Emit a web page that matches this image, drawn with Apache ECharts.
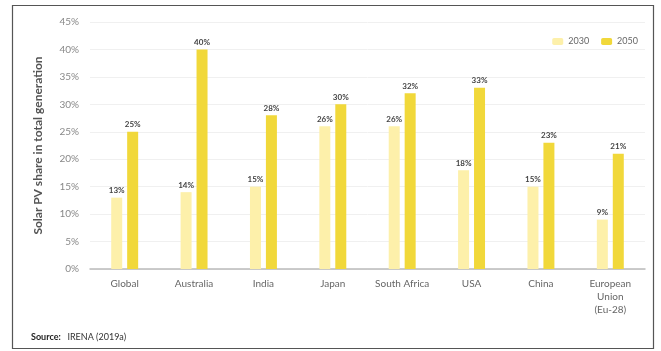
<!DOCTYPE html>
<html><head><meta charset="utf-8">
<script src="https://cdn.jsdelivr.net/npm/echarts@6/dist/echarts.min.js"></script>
<style>html,body{margin:0;padding:0;background:#fff}#c{width:661px;height:351px}</style>
</head><body><div id="c"></div>
<script>
const categories = ['Global','Australia','India','Japan','South Africa','USA','China','European\nUnion\n(Eu-28)'];
const values2030 = [13,14,15,26,26,18,15,9];
const values2050 = [25,40,28,30,32,33,23,21];
const yTicks = [0,5,10,15,20,25,30,35,40,45];

const chart = echarts.init(document.getElementById('c'));
const labelStyle = {show:true, position:'top', formatter:'{c}%', color:'#444', fontSize:8, fontWeight:'bold', fontFamily:'Lato', distance:3};
chart.setOption({
  animation:false,
  textStyle:{fontFamily:'Lato'},
  graphic:[
    {type:'rect', shape:{x:12.5,y:5.5,width:641,height:343}, style:{fill:'none', stroke:'#555', lineWidth:1.2}, z:0},
    {type:'text', left:31, top:331, style:{rich:{b:{fontWeight:'bold',fontSize:9,fill:'#222',fontFamily:'Lato'},n:{fontSize:9,fill:'#333',fontFamily:'Lato'}}, text:'{b|Source:}  {n|IRENA (2019a)}'}}
  ],
  legend:{top:32, right:18, itemWidth:11, itemHeight:7, itemGap:12, textStyle:{color:'#666', fontSize:9},
    data:['2030','2050']},
  grid:{left:90, right:16, top:22, bottom:82, containLabel:false},
  xAxis:{type:'category', data:categories,
    axisLine:{lineStyle:{color:'#bbb', width:1.5}}, axisTick:{show:false},
    axisLabel:{color:'#666', fontSize:10, margin:8, lineHeight:13, interval:0}},
  yAxis:{type:'value', min:0, max:45, interval:5,
    name:'Solar PV share in total generation', nameLocation:'middle', nameGap:46,
    nameTextStyle:{color:'#555', fontSize:12, fontWeight:'bold'},
    axisLabel:{formatter:v=>yTicks.includes(v)?v+'%':'', color:'#888', fontSize:10, margin:11},
    splitLine:{lineStyle:{color:'#f0f0f0'}}, axisLine:{show:false}, axisTick:{show:false}},
  series:[
    {name:'2030', type:'bar', data:values2030, barWidth:11, barGap:'45%', itemStyle:{color:'#FDF0AA'}, label:labelStyle},
    {name:'2050', type:'bar', data:values2050, barWidth:11, itemStyle:{color:'#F1D83A'}, label:labelStyle}
  ]
});
</script></body></html>
